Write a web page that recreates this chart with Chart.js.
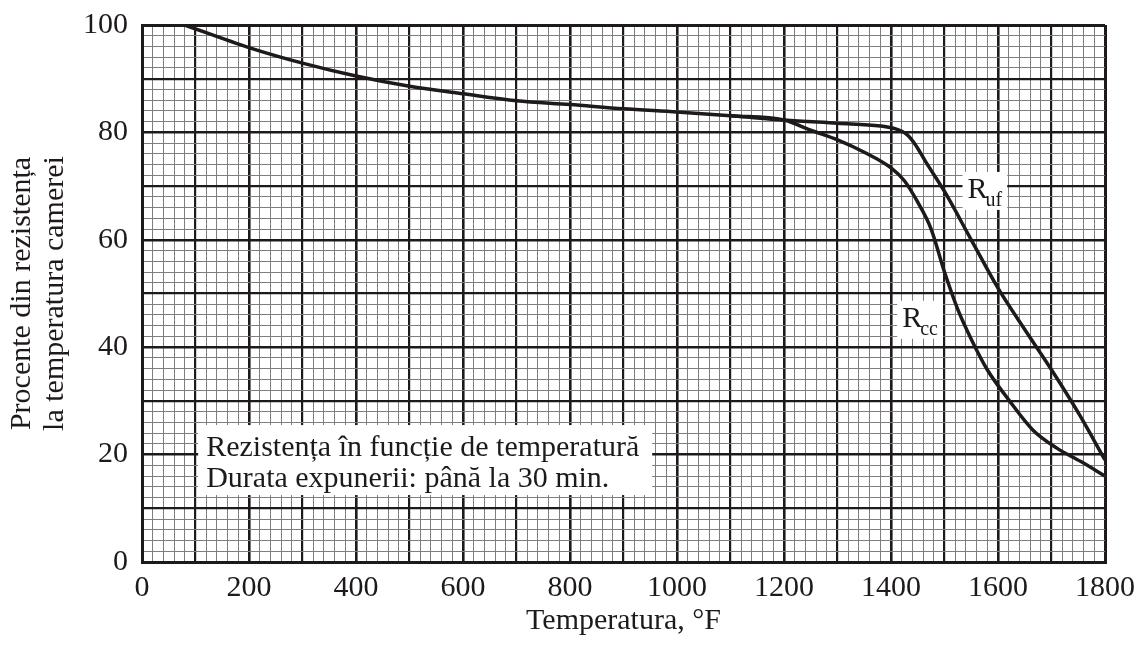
<!DOCTYPE html>
<html>
<head>
<meta charset="utf-8">
<script src="https://cdn.jsdelivr.net/npm/chart.js@4.4.1/dist/chart.umd.min.js"></script>
<style>
  html, body { margin: 0; padding: 0; background: #fff; }
  #wrap { width: 1142px; height: 647px; }
</style>
</head>
<body>
<div id="wrap"><canvas id="chart" width="1142" height="647"></canvas></div>
<script>
// common part of both curves (°F, % of room-temperature strength)
var tempCommon = [80, 200, 300, 400, 500, 600, 700, 800, 900, 1000, 1100, 1200];
var valCommon = [100, 95.8, 92.9, 90.5, 88.6, 87.2, 85.9, 85.2, 84.4, 83.8, 83.1, 82.3];

// R_uf branch
var tempUf = [1300, 1380, 1410, 1430, 1445, 1465, 1500, 1550, 1600, 1650, 1700, 1750, 1800];
var valUf = [81.7, 81.2, 80.6, 79.6, 77.8, 74.5, 69, 60, 51, 43.3, 35.8, 27.8, 19];

// R_cc branch
var tempCc = [1250, 1300, 1350, 1400, 1425, 1450, 1475, 1500, 1525, 1550, 1580, 1620, 1665, 1710, 1755, 1800];
var valCc = [80.4, 78.6, 76.3, 73.4, 71, 67, 62, 54, 47, 41.5, 35.8, 30.2, 24.6, 21.2, 18.7, 16];

var xTickLabels = [0, 200, 400, 600, 800, 1000, 1200, 1400, 1600, 1800];
var yTickLabels = [0, 20, 40, 60, 80, 100];

var ink = '#1e1a1a';
var serif = '"Liberation Serif", "Times New Roman", serif';

function pts(xs, ys) {
    return xs.map(function (x, i) { return { x: x, y: ys[i] }; });
}
var ufData = pts(tempCommon.concat(tempUf), valCommon.concat(valUf));
var ccData = pts(tempCommon.slice(-2).concat(tempCc), valCommon.slice(-2).concat(valCc));

function gridColor(ctx, major) {
    if (!ctx.tick) return '#808080';
    var v = Math.round(ctx.tick.value);
    return v % major === 0 ? ink : '#7d7d7d';
}
function gridWidth(ctx, major, big, max) {
    if (!ctx.tick) return 1;
    var v = Math.round(ctx.tick.value);
    if (v === 0 || v === max) return 3;
    if (v % big === 0) return 2.6;
    if (v % major === 0) return 2.2;
    return 1;
}

// white boxed texts on the grid
var notes = {
    id: 'notes',
    afterDatasetsDraw: function (chart) {
        var c = chart.ctx, xs = chart.scales.x, ys = chart.scales.y;
        c.save();
        // info box
        var bx = xs.getPixelForValue(105), by = ys.getPixelForValue(25.5);
        var bw = 454, bh = 70;
        c.fillStyle = '#fff';
        c.fillRect(bx, by, bw, bh);
        c.fillStyle = ink;
        c.font = '30px ' + serif;
        c.textBaseline = 'alphabetic';
        c.fillText('Rezistența în funcție de temperatură', bx + 8, by + 31);
        c.fillText('Durata expunerii: până la 30 min.', bx + 8, by + 62);
        // curve labels
        function lab(sub, xv, yv) {
            var x = xs.getPixelForValue(xv), y = ys.getPixelForValue(yv);
            c.font = '30px ' + serif;
            var rw = c.measureText('R').width;
            c.font = '20px ' + serif;
            var sw = c.measureText(sub).width;
            c.fillStyle = '#fff';
            c.fillRect(x - 5, y - 26, rw + sw + 8, 38);
            c.fillStyle = ink;
            c.font = '30px ' + serif;
            c.fillText('R', x, y);
            c.font = '20px ' + serif;
            c.fillText(sub, x + rw - 2, y + 8);
        }
        lab('uf', 1543, 67.8);
        lab('cc', 1421, 43.8);
        c.restore();
    }
};

new Chart(document.getElementById('chart'), {
    type: 'line',
    data: {
        datasets: [{
            label: 'R_uf',
            data: ufData,
            borderColor: ink,
            borderWidth: 3.5,
            pointRadius: 0,
            fill: false,
            cubicInterpolationMode: 'monotone'
        }, {
            label: 'R_cc',
            data: ccData,
            borderColor: ink,
            borderWidth: 3.5,
            pointRadius: 0,
            fill: false,
            cubicInterpolationMode: 'monotone'
        }]
    },
    options: {
        responsive: false,
        animation: false,
        layout: { padding: { top: 25, right: 37, left: 0, bottom: 0 } },
        plugins: {
            legend: { display: false },
            tooltip: { enabled: false }
        },
        scales: {
            x: {
                type: 'linear',
                min: 0,
                max: 1800,
                afterFit: function (s) {
                    s.height = 85;
                    s.paddingLeft = 0;
                    s.paddingRight = 0;
                },
                border: { display: true, color: ink, width: 3 },
                grid: {
                    drawTicks: false,
                    tickLength: 0,
                    color: function (ctx) { return gridColor(ctx, 100); },
                    lineWidth: function (ctx) { return gridWidth(ctx, 100, 200, 1800); }
                },
                ticks: {
                    stepSize: 20,
                    autoSkip: false,
                    maxRotation: 0,
                    padding: 8,
                    color: ink,
                    font: { family: serif, size: 30 },
                    callback: function (v) {
                        return xTickLabels.indexOf(Math.round(v)) >= 0 ? String(Math.round(v)) : '';
                    }
                },
                title: {
                    display: true,
                    text: 'Temperatura, °F',
                    color: ink,
                    font: { family: serif, size: 30, lineHeight: 1.2 },
                    padding: { top: 0, bottom: 8 }
                }
            },
            y: {
                min: 0,
                max: 100,
                afterFit: function (s) {
                    s.width = 142;
                    s.paddingTop = 0;
                    s.paddingBottom = 0;
                },
                border: { display: true, color: ink, width: 3 },
                grid: {
                    drawTicks: false,
                    tickLength: 0,
                    color: function (ctx) { return gridColor(ctx, 10); },
                    lineWidth: function (ctx) { return gridWidth(ctx, 10, 20, 100); }
                },
                ticks: {
                    stepSize: 2,
                    autoSkip: false,
                    padding: 14,
                    color: ink,
                    font: { family: serif, size: 30 },
                    callback: function (v) {
                        return yTickLabels.indexOf(Math.round(v)) >= 0 ? String(Math.round(v)) : '';
                    }
                },
                title: {
                    display: true,
                    text: ['Procente din rezistența', 'la temperatura camerei'],
                    color: ink,
                    font: { family: serif, size: 30, lineHeight: 1.1 },
                    padding: { top: 6, bottom: 0 }
                }
            }
        }
    },
    plugins: [notes]
});
</script>
</body>
</html>
